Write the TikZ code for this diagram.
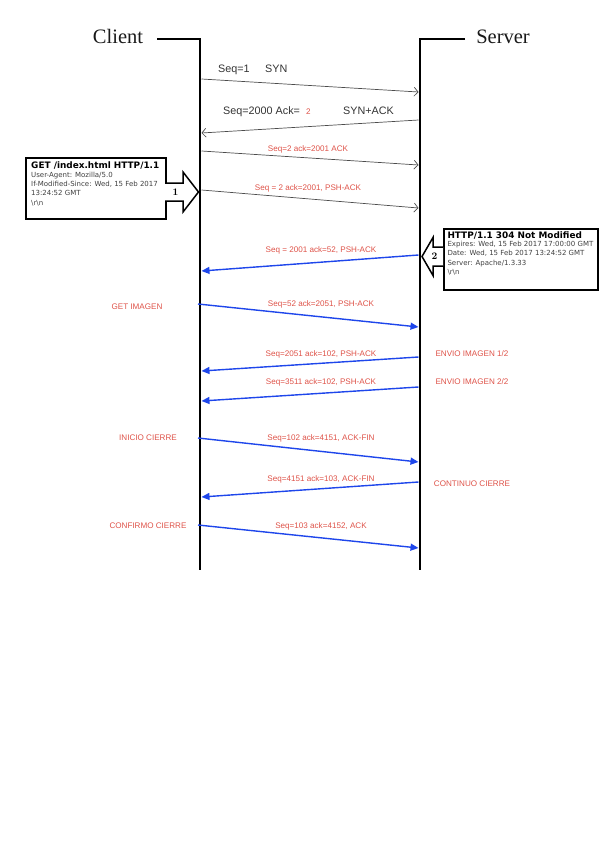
\documentclass[tikz,border=0pt]{standalone}
\usepackage{fontspec}
\newfontfamily\lab{Liberation Sans}
\newfontfamily\dvs{DejaVu Sans}
\newfontfamily\ttl{Liberation Serif}
\usetikzlibrary{arrows.meta}
\definecolor{myred}{RGB}{222,82,72}
\definecolor{myblue}{RGB}{30,70,235}
\begin{document}
\begin{tikzpicture}[x=1pt,y=-1pt,
  life/.style={line width=2.6pt,black},
  msg/.style={draw=black!70,line width=0.7pt,-{Straight Barb[length=4pt,width=9pt]}},
  bmsg/.style={draw=myblue,line width=1.4pt,-{Triangle[length=8pt,width=7pt]}},
  lbl/.style={font=\lab\fontsize{8.1}{9}\selectfont,text=myred,inner sep=0pt,anchor=base},
  slbl/.style={lbl},
  blk/.style={font=\lab\fontsize{10.8}{12}\selectfont,text=black!80,inner sep=0pt,anchor=base west},
  boxl/.style={font=\dvs\fontsize{7}{8}\selectfont,text=black!75,inner sep=0pt,anchor=base west},
  boxt/.style={font=\dvs\bfseries\fontsize{8.9}{10}\selectfont,inner sep=0pt,anchor=base west},
  hbox/.style={draw=black,line width=1.5pt,fill=white,inner sep=0pt},
  barrow/.style={draw=black,line width=1.5pt,fill=white,line join=miter},
  title/.style={font=\ttl\fontsize{20.5}{23}\selectfont,text=black!90,inner sep=0pt,anchor=base}
]
\useasboundingbox (0,0) rectangle (599,848);

% titles and lifelines
\node[title] (client) at (118,44) {Client};
\node[title] (server) at (503,44) {Server};
\coordinate (cl0) at (157,39);
\coordinate (ct) at (200,39);
\coordinate (cb) at (200,570);
\coordinate (sr0) at (465,39);
\coordinate (st) at (420,39);
\coordinate (sb) at (420,570);
\draw[life] (cl0) -- (ct) -- (cb);
\draw[life] (sr0) -- (st) -- (sb);

% message end points
\coordinate (c1) at (201.5,79);  \coordinate (s1) at (418.5,92);
\coordinate (s2) at (418.5,120); \coordinate (c2) at (201.5,133);
\coordinate (c3) at (201.5,151); \coordinate (s3) at (418.5,165);
\coordinate (c4) at (201.5,190); \coordinate (s4) at (418.5,208);
\coordinate (s5) at (418.5,255); \coordinate (c5) at (201.5,271);
\coordinate (c6) at (198,304);   \coordinate (s6) at (418.5,327);
\coordinate (s7) at (418.5,357); \coordinate (c7) at (201.5,371);
\coordinate (s8) at (418.5,387); \coordinate (c8) at (201.5,401);
\coordinate (c9) at (198,438);   \coordinate (s9) at (418.5,462);
\coordinate (s10) at (418.5,482); \coordinate (c10) at (201.5,497);
\coordinate (c11) at (198,525);  \coordinate (s11) at (418.5,548);

% black messages
\draw[msg] (c1) -- (s1);
\draw[msg] (s2) -- (c2);
\draw[msg] (c3) -- (s3);
\draw[msg] (c4) -- (s4);
% blue messages
\draw[bmsg] (s5) -- (c5);
\draw[bmsg] (c6) -- (s6);
\draw[bmsg] (s7) -- (c7);
\draw[bmsg] (s8) -- (c8);
\draw[bmsg] (c9) -- (s9);
\draw[bmsg] (s10) -- (c10);
\draw[bmsg] (c11) -- (s11);

% labels of black messages
\node[blk] (l1a) at (218,72.5) {Seq=1};
\node[blk] (l1b) at (265,72.5) {SYN};
\node[blk] (l2a) at (223,115) {Seq=2000 Ack=};
\node[lbl,anchor=base west] (l2b) at (306,115) {2};
\node[blk] (l2c) at (343,115) {SYN+ACK};
\node[lbl] (l3) at (308,151) {Seq=2 ack=2001 ACK};
\node[lbl] (l4) at (308,190) {Seq = 2 ack=2001, PSH-ACK};
% labels of blue messages
\node[lbl] (l5) at (321,252) {Seq = 2001 ack=52, PSH-ACK};
\node[lbl] (l6) at (321,306) {Seq=52 ack=2051, PSH-ACK};
\node[lbl] (l7) at (321,356) {Seq=2051 ack=102, PSH-ACK};
\node[lbl] (l8) at (321,384) {Seq=3511 ack=102, PSH-ACK};
\node[lbl] (l9) at (321,440) {Seq=102 ack=4151, ACK-FIN};
\node[lbl] (l10) at (321,481) {Seq=4151 ack=103, ACK-FIN};
\node[lbl] (l11) at (321,528) {Seq=103 ack=4152, ACK};
% side notes
\node[slbl] (n1) at (137,309) {GET IMAGEN};
\node[slbl] (n2) at (472,356) {ENVIO IMAGEN 1/2};
\node[slbl] (n3) at (472,384) {ENVIO IMAGEN 2/2};
\node[slbl] (n4) at (148,440) {INICIO CIERRE};
\node[slbl] (n5) at (472,486) {CONTINUO CIERRE};
\node[slbl] (n6) at (148,528) {CONFIRMO CIERRE};

% request box
\node[hbox,minimum width=140pt,minimum height=61pt,anchor=north west] (getbox) at (25,157) {};
\node[boxt] (g0) at (31,168) {GET /index.html HTTP/1.1};
\node[boxl] (g1) at (31,177) {User-Agent: Mozilla/5.0};
\node[boxl] (g2) at (31,186.5) {If-Modified-Since: Wed, 15 Feb 2017};
\node[boxl] (g3) at (31,195.8) {13:24:52 GMT};
\node[boxl] (g4) at (31,205) {\textbackslash r\textbackslash n};
\draw[barrow] (165,183) -- (183,183) -- (183,172) -- (198.5,192) -- (183,212) -- (183,201) -- (165,201);
\node[font=\bfseries\fontsize{10}{12}\selectfont,inner sep=0pt] (a1) at (175.5,192) {1};

% response box
\node[hbox,minimum width=154pt,minimum height=61pt,anchor=north west] (httpbox) at (443,228) {};
\node[boxt] (h0) at (447.3,238.3) {HTTP/1.1 304 Not Modified};
\node[boxl] (h1) at (447.3,246.6) {Expires: Wed, 15 Feb 2017 17:00:00 GMT};
\node[boxl] (h2) at (447.3,255.7) {Date: Wed, 15 Feb 2017 13:24:52 GMT};
\node[boxl] (h3) at (447.3,265) {Server: Apache/1.3.33};
\node[boxl] (h4) at (447.3,274) {\textbackslash r\textbackslash n};
\draw[barrow] (443,247) -- (433,247) -- (433,237.5) -- (422,256.5) -- (433,275.5) -- (433,266) -- (443,266);
\node[font=\bfseries\fontsize{10}{12}\selectfont,inner sep=0pt] (a2) at (434.5,256.5) {2};
\end{tikzpicture}
\end{document}
